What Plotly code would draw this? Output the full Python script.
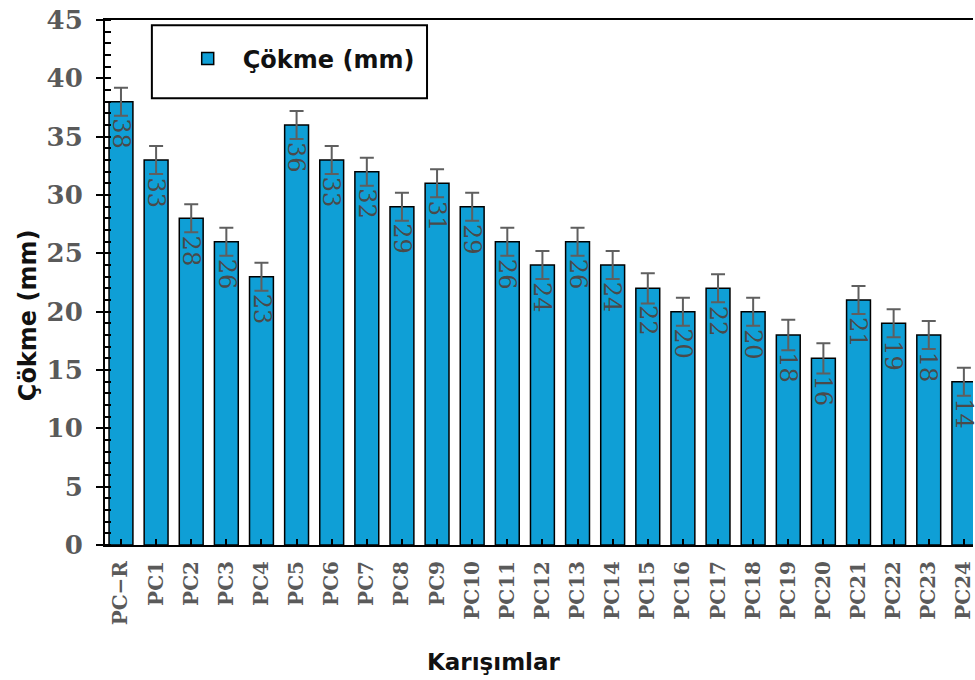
import plotly.graph_objects as go

categories = ["PC−R", "PC1", "PC2", "PC3", "PC4", "PC5", "PC6", "PC7", "PC8", "PC9",
              "PC10", "PC11", "PC12", "PC13", "PC14", "PC15", "PC16", "PC17", "PC18",
              "PC19", "PC20", "PC21", "PC22", "PC23", "PC24"]
values = [38, 33, 28, 26, 23, 36, 33, 32, 29, 31, 29, 26, 24, 26, 24, 22, 20, 22, 20,
          18, 16, 21, 19, 18, 14]
errors = [1.2, 1.2, 1.2, 1.2, 1.2, 1.2, 1.2, 1.2, 1.2, 1.2, 1.2, 1.2, 1.2, 1.2, 1.2,
          1.3, 1.2, 1.2, 1.2, 1.3, 1.3, 1.2, 1.2, 1.2, 1.2]
y_ticks = [0, 5, 10, 15, 20, 25, 30, 35, 40, 45]

series_name = "Çökme (mm)"
x_title = "Karışımlar"
y_title = "Çökme (mm)"

BAR_COLOR = "#0f9fd6"
GRAY = "#5a5a5a"

fig = go.Figure()
fig.add_trace(go.Bar(
    x=categories, y=values, name=series_name, width=0.68,
    marker=dict(color=BAR_COLOR, line=dict(color="black", width=1.5)),
    error_y=dict(type="data", array=errors, color="#5f5f5f", thickness=2, width=7),
    showlegend=True,
))

annotations = []
for c, v in zip(categories, values):
    annotations.append(dict(
        x=c, y=v, xref="x", yref="y", text=str(v), showarrow=False,
        textangle=90, yanchor="top", xanchor="center", yshift=-15,
        font=dict(family="DejaVu Serif", size=24, color="#4a4a4a"),
    ))
annotations.append(dict(
    x=0.448, y=-0.223, xref="paper", yref="paper", text=x_title, showarrow=False,
    xanchor="center", yanchor="middle",
    font=dict(family="DejaVu Sans", size=23, color="#111111", weight="bold"),
))
annotations.append(dict(
    x=-0.0885, y=0.438, xref="paper", yref="paper", text=y_title, showarrow=False,
    textangle=-90, xanchor="center", yanchor="middle",
    font=dict(family="DejaVu Sans", size=24, color="#111111", weight="bold"),
))

fig.update_layout(
    width=975, height=680,
    margin=dict(l=105, r=0, t=20, b=135),
    paper_bgcolor="white", plot_bgcolor="white",
    annotations=annotations,
    shapes=[dict(type="rect", xref="paper", yref="paper",
                 x0=0.054, x1=0.371, y0=0.851, y1=0.990,
                 line=dict(color="black", width=2), fillcolor="rgba(0,0,0,0)")],
    legend=dict(x=0.078, y=0.926, xanchor="left", yanchor="middle",
                bgcolor="rgba(0,0,0,0)", borderwidth=0, itemwidth=60,
                font=dict(family="DejaVu Sans", size=24, color="#111111", weight="bold")),
)
fig.update_xaxes(
    type="category", range=[-0.455, 24.26],
    showline=True, linecolor="black", linewidth=2, mirror=True,
    ticks="inside", ticklen=6, tickwidth=1.5, tickcolor="black",
    tickangle=-90, showgrid=False, zeroline=False, ticklabelstandoff=6,
    tickfont=dict(family="DejaVu Serif", size=20, color=GRAY, weight="bold"),
)
fig.update_yaxes(
    range=[0, 45], tickvals=y_ticks,
    showline=True, linecolor="black", linewidth=2,
    ticks="outside", ticklen=7, tickwidth=2, tickcolor="black",
    showgrid=False, zeroline=False, ticklabelstandoff=8,
    tickfont=dict(family="DejaVu Serif", size=26, color=GRAY, weight="bold"),
    minor=dict(dtick=1, ticks="inside", ticklen=6, tickwidth=1.5, tickcolor="black", showgrid=False),
)
fig.write_html("out.html", config={"displayModeBar": False},
               post_script="document.body.style.margin='0';document.body.style.overflow='hidden';")
